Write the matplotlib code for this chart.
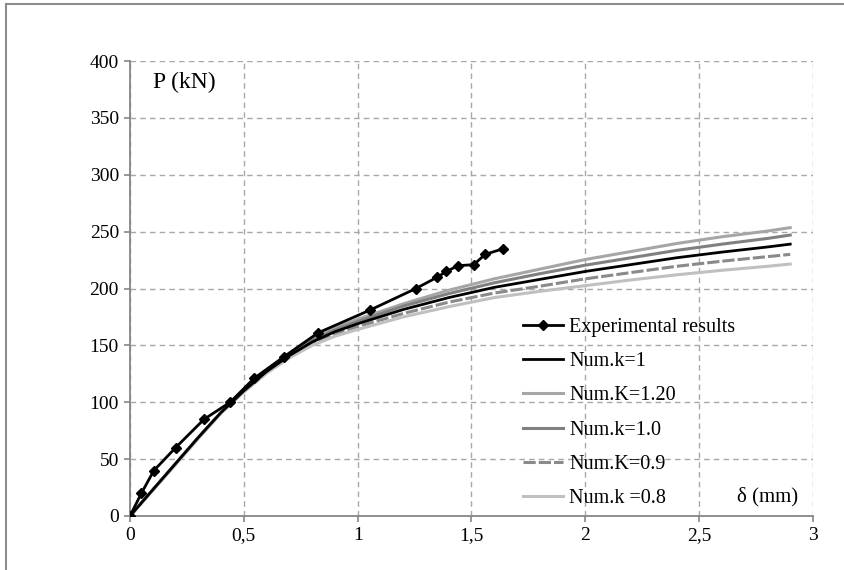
import numpy as np
import matplotlib
matplotlib.use("Agg")
from matplotlib import pyplot as plt
from matplotlib.lines import Line2D

# Load-displacement: experimental points vs numerical model for several k values

d_exp = [0, 0.05, 0.105, 0.2, 0.325, 0.44, 0.545, 0.676, 0.826, 1.054,
         1.256, 1.35, 1.39, 1.44, 1.51, 1.56, 1.64]
p_exp = [0, 20, 40, 60, 85, 100, 121, 140, 161, 181,
         200, 210, 215, 220, 221, 230, 235]

d_num = [0, 0.1, 0.2, 0.3, 0.4, 0.5, 0.6, 0.7, 0.8, 0.9, 1.0,
         1.2, 1.4, 1.6, 1.8, 2.0, 2.2, 2.4, 2.6, 2.8, 2.9]
p_k1 = [0, 23, 46, 69, 91, 110, 127, 141, 153, 162, 169,
        181.5, 192, 201, 208, 215, 221, 227, 232, 236.5, 239]
p_k120 = [0, 23, 46, 69, 91, 110.5, 128, 142.5, 155.5, 165, 173,
          186.5, 198.5, 208.5, 217, 225.5, 232.5, 239.5, 245.5, 250.5, 253.5]
p_k10 = [0, 23, 46, 69, 91, 110, 127.5, 142, 154.5, 163.5, 171,
         184.5, 195.5, 205, 213, 220.5, 227, 233.5, 239, 244, 247]
p_k09 = [0, 23, 46, 69, 91, 109.5, 126, 140, 151.5, 160, 166.5,
         178, 188, 196, 202, 208.5, 214, 219.5, 224, 228, 230]
p_k08 = [0, 22.5, 45, 68, 90.5, 109, 125.5, 139, 150, 158, 164,
         175, 184, 192, 197.5, 202.5, 207.5, 212, 216, 219.5, 221.5]

x_ticks = [0, 0.5, 1, 1.5, 2, 2.5, 3]
x_labels = ['0', '0,5', '1', '1,5', '2', '2,5', '3']
y_ticks = [0, 50, 100, 150, 200, 250, 300, 350, 400]

plt.rcParams['font.family'] = ['Liberation Serif', 'DejaVu Serif']

fig = plt.figure(figsize=(8.45, 5.70), dpi=100)
ax = fig.add_axes([130/845, 1 - 516/570, 683/845, 455/570])

l_k1, = ax.plot(d_num, p_k1, color='black', lw=2.0, zorder=4)
l_k120, = ax.plot(d_num, p_k120, color='#a6a6a6', lw=2.2, zorder=3)
l_k10, = ax.plot(d_num, p_k10, color='#808080', lw=2.2, zorder=3)
l_k09, = ax.plot(d_num, p_k09, color='#8a8a8a', lw=2.2, ls=(0, (4, 1)), zorder=3)
l_k08, = ax.plot(d_num, p_k08, color='#c0c0c0', lw=2.2, zorder=3)
l_exp, = ax.plot(d_exp, p_exp, color='black', lw=2.0, marker='D', ms=5.5, zorder=5)

ax.set_xlim(0, 3)
ax.set_ylim(0, 400)
ax.set_xticks(x_ticks)
ax.set_xticklabels(x_labels)
ax.set_yticks(y_ticks)
ax.tick_params(labelsize=14, colors='#868686', length=4, width=1.2,
               labelcolor='black', pad=4)

ax.grid(True, color='#a8a8a8', ls=(0, (4, 3)), lw=1.0)
ax.set_axisbelow(True)
for s in ['top', 'right']:
    ax.spines[s].set_visible(False)
for s in ['left', 'bottom']:
    ax.spines[s].set_color('#868686')
    ax.spines[s].set_linewidth(1.3)

ax.text(0.033, 0.952, 'P (kN)', transform=ax.transAxes, fontsize=17, va='center')
ax.text(0.978, 0.042, 'δ (mm)', transform=ax.transAxes, fontsize=15,
        va='center', ha='right')

leg = ax.legend([l_exp, l_k1, l_k120, l_k10, l_k09, l_k08],
                ['Experimental results', 'Num.k=1', 'Num.K=1.20', 'Num.k=1.0',
                 'Num.K=0.9', 'Num.k =0.8'],
                loc='upper left', bbox_to_anchor=(393/683, 0.4352),
                frameon=False, fontsize=14.5, handlelength=2.0, handletextpad=0.3,
                labelspacing=0.75, borderpad=0, borderaxespad=0)
leg.set_zorder(6)

# thin frame around the whole figure
fig.add_artist(Line2D([6/845, 6/845], [0, 1 - 4/570], color='#8c8c8c', lw=1.5))
fig.add_artist(Line2D([6/845, 1], [1 - 4/570, 1 - 4/570], color='#8c8c8c', lw=1.5))

fig.savefig('out.png', dpi=100)
